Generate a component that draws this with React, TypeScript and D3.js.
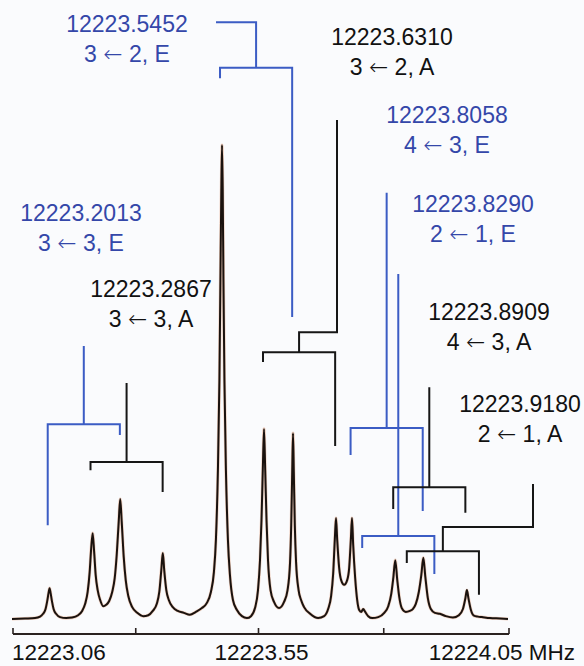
import React from "react";
import * as d3 from "d3";

// ---- Spectrum: frequency in MHz, intensity in % of strongest line
const specMHz = [
  12223.058, 12223.084, 12223.104, 12223.114, 12223.12, 12223.125, 12223.128, 12223.131, 12223.133, 12223.135,
  12223.138, 12223.141, 12223.146, 12223.154, 12223.166, 12223.178, 12223.19, 12223.198, 12223.204, 12223.209,
  12223.213, 12223.216, 12223.219, 12223.222, 12223.225, 12223.229, 12223.234, 12223.24, 12223.246, 12223.252,
  12223.258, 12223.263, 12223.267, 12223.271, 12223.274, 12223.277, 12223.281, 12223.285, 12223.29, 12223.298,
  12223.308, 12223.32, 12223.33, 12223.339, 12223.347, 12223.352, 12223.356, 12223.359, 12223.362, 12223.366,
  12223.371, 12223.379, 12223.389, 12223.401, 12223.413, 12223.425, 12223.437, 12223.447, 12223.455, 12223.461,
  12223.465, 12223.469, 12223.472, 12223.474, 12223.4758, 12223.4772, 12223.4786, 12223.48, 12223.482, 12223.485,
  12223.489, 12223.493, 12223.499, 12223.507, 12223.517, 12223.527, 12223.535, 12223.543, 12223.549, 12223.553,
  12223.556, 12223.5586, 12223.561, 12223.5634, 12223.566, 12223.569, 12223.574, 12223.581, 12223.591, 12223.601,
  12223.608, 12223.613, 12223.6153, 12223.6173, 12223.6189, 12223.6205, 12223.6225, 12223.625, 12223.63, 12223.635,
  12223.641, 12223.653, 12223.669, 12223.681, 12223.689, 12223.695, 12223.699, 12223.7023, 12223.7047, 12223.7071,
  12223.711, 12223.715, 12223.721, 12223.727, 12223.731, 12223.7343, 12223.7366, 12223.739, 12223.743, 12223.747,
  12223.751, 12223.755, 12223.759, 12223.763, 12223.769, 12223.777, 12223.789, 12223.801, 12223.809, 12223.815,
  12223.819, 12223.823, 12223.827, 12223.831, 12223.836, 12223.844, 12223.852, 12223.858, 12223.864, 12223.87,
  12223.875, 12223.879, 12223.883, 12223.888, 12223.894, 12223.902, 12223.912, 12223.924, 12223.938, 12223.95,
  12223.958, 12223.963, 12223.966, 12223.969, 12223.974, 12223.98, 12223.988, 12223.996, 12224.012, 12224.032,
  12224.048,
];
const specInt = [
  0, 0.1, 0.2, 0.5, 1.1, 2.1, 3.6, 5.5, 6.5, 5.5,
  3.6, 2.1, 1.1, 0.4, 0.2, 0.3, 0.8, 1.7, 3.2, 5.7,
  9.9, 14.8, 18.1, 14.1, 9.3, 6.1, 4.0, 2.7, 3.0, 3.8,
  5.7, 8.6, 13.5, 20.5, 25.3, 20.5, 13.1, 8.2, 4.9, 2.5,
  1.3, 0.6, 0.8, 1.7, 3.2, 5.7, 10.3, 13.9, 10.1, 6.1,
  4.0, 2.5, 1.7, 1.3, 0.9, 1.5, 2.3, 3.4, 5.7, 9.9,
  16.7, 31.4, 50.4, 71.5, 90.5, 100, 90.5, 71.5, 50.4, 31.4,
  16.7, 9.3, 4.0, 1.9, 0.6, 0.2, 0.6, 2.3, 6.1, 12.4,
  20.9, 31.4, 40.1, 31.4, 20.9, 12.4, 6.1, 3.6, 2.3, 3.6,
  6.1, 12.0, 19.8, 31.0, 39.2, 31.0, 19.8, 12.0, 6.1, 4.0,
  2.5, 1.1, 0.2, 0.6, 2.1, 4.9, 9.5, 16.7, 21.3, 16.7,
  10.8, 8.2, 7.2, 8.2, 10.8, 16.7, 21.3, 15.6, 8.6, 4.0,
  1.9, 1.5, 2.1, 1.5, 0.6, 0.2, 0.4, 1.3, 2.7, 5.3,
  8.6, 12.4, 8.2, 4.6, 2.3, 1.5, 1.7, 2.1, 3.2, 5.7,
  9.3, 12.9, 8.9, 4.4, 2.1, 1.3, 1.1, 0.6, 0.3, 0.8,
  2.1, 4.4, 6.1, 4.4, 1.9, 0.7, 0.5, 0.4, 0.2, 0.1,
  0,
];

// ---- Assigned transitions
const transFreq = [12223.2013, 12223.2867, 12223.5452, 12223.631, 12223.8058, 12223.829, 12223.8909, 12223.918];
const transFreqText = ["12223.2013", "12223.2867", "12223.5452", "12223.6310", "12223.8058", "12223.8290", "12223.8909", "12223.9180"];
const transUpper = ["3", "3", "3", "3", "4", "2", "4", "2"];
const transLower = ["3", "3", "2", "2", "3", "1", "3", "1"];
const transSym = ["E", "A", "E", "A", "E", "E", "A", "A"];
const dopplerHalfMHz = 0.072;

// ---- Axis
const axisDomain = [12223.06, 12224.05];
const axisTicks = [12223.06, 12223.305, 12223.55, 12223.8, 12224.05];
const axisLabelValues = [12223.06, 12223.55, 12224.05];
const axisLabelTexts = ["12223.06", "12223.55", "12224.05 MHz"];
const axisLabelAnchor = ["start", "middle", "end"];

// ---- Annotation layout (bracket levels in intensity units, leader x in MHz, label px)
const bracketBar = [41.1, 33.1, 116.3, 56.3, 40.3, 17.5, 27.8, 14.3];
const bracketLeftEnd = [19.8, 31.4, 114.1, 54.2, 34.6, 15.0, 23.2, 11.8];
const bracketRightEnd = [38.8, 26.8, 63.7, 36.5, 22.8, 9.5, 22.4, 5.1];
const bracketElbow = [57.6, 49.8, 125.9, 60.5, 89.9, 72.8, 48.9, 19.4];
const bracketTop = [57.6, 49.8, 125.9, 105.3, 89.9, 72.8, 48.9, 28.5];
const bracketLeaderMHz: (number | null)[] = [null, null, 12223.4652, 12223.7067, null, null, null, 12224.0979];
const labelX = [81, 151, 127, 392, 447, 473, 489, 520];
const labelY = [221, 297, 32, 45, 123, 212, 320, 412];

const W = 584;
const H = 666;
const BLUE_TEXT = "#3447a9";
const BLUE_LINE = "#3b5cc4";
const BLACK = "#161616";
const FONT = "'Liberation Sans', Arial, Helvetica, sans-serif";
const ARROW_FONT = "'DejaVu Sans', 'Liberation Sans', sans-serif";

export default function App() {
  const x = d3.scaleLinear().domain(axisDomain).range([13, 509]);
  const y = d3.scaleLinear().domain([0, 100]).range([619, 145]);
  const axisY = 634;

  const pts: [number, number][] = specMHz.map((f, i) => [f, specInt[i]]);
  const line = d3
    .line<[number, number]>()
    .x((d) => x(d[0]))
    .y((d) => y(d[1]))
    .curve(d3.curveMonotoneX);
  const specPath = line(pts) || "";

  const brackets = transFreq.map((f, i) => {
    const c = x(f);
    const l = x(f - dopplerHalfMHz);
    const r = x(f + dopplerHalfMHz);
    const yb = y(bracketBar[i]);
    const p = d3.path();
    p.moveTo(l, y(bracketLeftEnd[i]));
    p.lineTo(l, yb);
    p.lineTo(r, yb);
    p.lineTo(r, y(bracketRightEnd[i]));
    p.moveTo(c, yb);
    p.lineTo(c, y(bracketElbow[i]));
    const lm = bracketLeaderMHz[i];
    if (lm !== null) {
      const lx = x(lm);
      p.lineTo(lx, y(bracketElbow[i]));
      p.lineTo(lx, y(bracketTop[i]));
    }
    return p.toString();
  });

  return (
    <svg
      width={W}
      height={H}
      viewBox={`0 0 ${W} ${H}`}
      style={{ position: "absolute", left: 0, top: 0, background: "#fafbfd" }}
    >
      <rect x={0} y={0} width={W} height={H} fill="#fafbfd" />
      {/* brackets */}
      {brackets.map((d, i) => (
        <path
          key={"b" + i}
          d={d}
          fill="none"
          stroke={transSym[i] === "E" ? BLUE_LINE : BLACK}
          strokeWidth={2}
          strokeLinejoin="miter"
          strokeLinecap="butt"
        />
      ))}
      {/* spectrum */}
      <path d={specPath} fill="none" stroke="#d9824f" strokeOpacity={0.35} strokeWidth={3.2} strokeLinejoin="round" />
      <path d={specPath} fill="none" stroke="#1a120e" strokeWidth={2} strokeLinejoin="round" />
      {/* axis */}
      <line x1={x(axisDomain[0])} x2={x(axisDomain[1])} y1={axisY} y2={axisY} stroke="#2a2220" strokeWidth={1.8} />
      {axisTicks.map((t, i) => (
        <line key={"t" + i} x1={x(t)} x2={x(t)} y1={axisY} y2={axisY - 6} stroke="#2a2220" strokeWidth={1.6} />
      ))}
      {axisLabelValues.map((v, i) => (
        <text
          key={"al" + i}
          x={x(v) + (i === 0 ? -1 : i === 2 ? 66 : 3)}
          y={660}
          textAnchor={axisLabelAnchor[i]}
          fontFamily={FONT}
          fontSize={22.5}
          fill="#111"
        >
          {axisLabelTexts[i]}
        </text>
      ))}
      {/* labels */}
      {transFreq.map((_, i) => {
        const fill = transSym[i] === "E" ? BLUE_TEXT : "#111";
        return (
          <g key={"l" + i} fontFamily={FONT} fontSize={23} fill={fill}>
            <text x={labelX[i]} y={labelY[i]} textAnchor="middle">
              {transFreqText[i]}
            </text>
            <text x={labelX[i]} y={labelY[i] + 29.5} textAnchor="middle">
              <tspan>{transUpper[i]} </tspan>
              <tspan fontFamily={ARROW_FONT} fontWeight={300}>
                {"\u2190"}
              </tspan>
              <tspan>{" " + transLower[i] + ", " + transSym[i]}</tspan>
            </text>
          </g>
        );
      })}
    </svg>
  );
}
